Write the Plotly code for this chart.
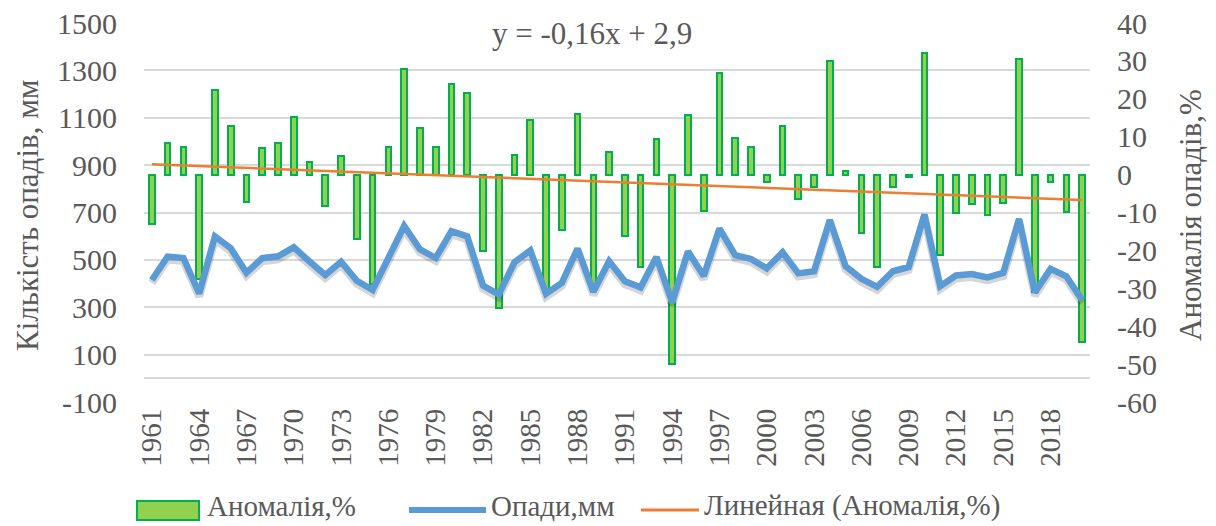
import plotly.graph_objects as go

# Annual precipitation and its anomaly, 1961-2020
years = list(range(1961, 2021))

anomaly_pct = [
    -13.0, 8.4, 7.4, -27.5, 22.4, 12.8, -7.2, 6.9, 8.4, 15.3,
    3.4, -8.3, 5.0, -17.1, -28.8, 7.4, 27.8, 12.4, 7.4, 23.9,
    21.5, -20.2, -35.1, 5.3, 14.4, -31.0, -14.7, 15.9, -30.5, 6.0,
    -16.2, -24.5, 9.3, -50.0, 15.7, -9.6, 26.8, 9.7, 7.4, -2.0,
    12.8, -6.5, -3.4, 30.1, 1.0, -15.4, -24.4, -3.2, -0.5, 32.2,
    -21.3, -10.0, -7.8, -10.7, -7.6, 30.5, -31.0, -2.0, -9.8, -44.2,
]

precip_mm = [
    415, 514, 508, 358, 599, 549, 446, 507, 515, 553,
    493, 436, 492, 412, 373, 512, 643, 545, 508, 621,
    599, 392, 354, 490, 540, 357, 403, 548, 365, 494,
    410, 384, 512, 320, 536, 432, 632, 520, 504, 464,
    532, 443, 452, 668, 473, 420, 386, 452, 470, 692,
    389, 434, 440, 426, 445, 673, 362, 462, 431, 330,
]

# Linear trend of the anomaly series: y = slope * n + intercept, n = 1..60
trend_slope = -0.16
trend_intercept = 2.9
trend_pct = [trend_slope * (i + 1) + trend_intercept for i in range(len(years))]

year_ticks = years[::3]
year_ticktext = [str(y) for y in year_ticks]

mm_range = [-100, 1500]
mm_ticks = [-100, 100, 300, 500, 700, 900, 1100, 1300, 1500]
mm_ticktext = ["-100", "100", "300", "500", "700", "900", "1100", "1300", "1500"]

pct_range = [-60, 40]
pct_ticks = [-60, -50, -40, -30, -20, -10, 0, 10, 20, 30, 40]
pct_ticktext = ["-60", "-50", "-40", "-30", "-20", "-10", "0", "10", "20", "30", "40"]

FONT = "Liberation Serif"
TXT = "#595959"
GRID = "#d9d9d9"
BAR_FILL = "#92d050"
BAR_EDGE = "#00b050"
BLUE = "#5b9bd5"
ORANGE = "#ed7d31"
SHADOW = "rgba(0,0,0,0.16)"

W, H = 1216, 526
ML, MR, MT, MB = 144, 126, 23, 124
PW, PH = W - ML - MR, H - MT - MB

# drop shadow of the precipitation line: same data on a hidden axis nudged a few px down
shadow_px = 3
shadow_shift = shadow_px * (mm_range[1] - mm_range[0]) / PH
shadow_range = [mm_range[0] + shadow_shift, mm_range[1] + shadow_shift]


def px_x(x):
    return (x - ML) / PW


def px_y(y):
    return (H - MB - y) / PH


fig = go.Figure()

fig.add_trace(go.Bar(
    x=years, y=anomaly_pct, yaxis="y", width=0.36,
    marker=dict(color=BAR_FILL, line=dict(color=BAR_EDGE, width=2)),
    name="Аномалія,%", showlegend=False,
))
fig.add_trace(go.Scatter(
    x=years, y=trend_pct, yaxis="y", mode="lines",
    line=dict(color=ORANGE, width=2.5),
    name="Линейная (Аномалія,%)", showlegend=False,
))
fig.add_trace(go.Scatter(
    x=years, y=precip_mm, yaxis="y2", mode="lines",
    line=dict(color=SHADOW, width=8),
    hoverinfo="skip", showlegend=False,
))
fig.add_trace(go.Scatter(
    x=years, y=precip_mm, yaxis="y3", mode="lines",
    line=dict(color=BLUE, width=6.5),
    name="Опади,мм", showlegend=False,
))

fig.update_layout(
    width=W, height=H, autosize=False,
    margin=dict(l=ML, r=MR, t=MT, b=MB, autoexpand=False),
    paper_bgcolor="white", plot_bgcolor="white",
    font=dict(family=FONT, color=TXT, size=30),
    bargap=0, showlegend=False,
    xaxis=dict(
        range=[1960.5, 2020.5], tickmode="array",
        tickvals=year_ticks, ticktext=year_ticktext, tickangle=-90,
        tickfont=dict(size=29, color=TXT, family=FONT),
        showgrid=False, zeroline=False, showline=False, ticks="",
        automargin=False,
    ),
    yaxis=dict(
        side="right", range=pct_range, tickmode="array",
        tickvals=pct_ticks, ticktext=pct_ticktext,
        tickfont=dict(size=30, color=TXT, family=FONT),
        showgrid=False, zeroline=False, showline=False, ticks="",
        ticklabelstandoff=26, automargin=False,
    ),
    yaxis2=dict(
        overlaying="y", range=shadow_range, visible=False,
        showgrid=False, zeroline=False, automargin=False,
    ),
    yaxis3=dict(
        side="left", overlaying="y", range=mm_range, tickmode="array",
        tickvals=mm_ticks, ticktext=mm_ticktext,
        tickfont=dict(size=30, color=TXT, family=FONT),
        showgrid=True, gridcolor=GRID, gridwidth=2,
        zeroline=True, zerolinecolor=GRID, zerolinewidth=2,
        showline=False, ticks="", ticklabelstandoff=26, automargin=False,
    ),
)


def label(text, x, y, angle=0, xanchor="center", size=31):
    return dict(text=text, x=px_x(x), y=px_y(y), xref="paper", yref="paper",
                xanchor=xanchor, yanchor="middle", textangle=angle,
                showarrow=False, font=dict(size=size, color=TXT, family=FONT))


annotations = [
    label("y = -0,16x + 2,9", 592, 33),
    label("Кількість опадів, мм", 27, 216, angle=-90),
    label("Аномалія опадів,%", 1190, 215, angle=-90),
    label("Аномалія,%", 205, 506, xanchor="left", size=29),
    label("Опади,мм", 489, 506, xanchor="left", size=29),
    label("Линейная (Аномалія,%)", 702, 506, xanchor="left", size=29),
]

shapes = [
    dict(type="rect", xref="paper", yref="paper",
         x0=px_x(137), x1=px_x(199), y0=px_y(520), y1=px_y(501),
         fillcolor=BAR_FILL, line=dict(color=BAR_EDGE, width=2)),
    dict(type="line", xref="paper", yref="paper",
         x0=px_x(409), x1=px_x(486), y0=px_y(510), y1=px_y(510),
         line=dict(color=BLUE, width=6)),
    dict(type="line", xref="paper", yref="paper",
         x0=px_x(641), x1=px_x(699), y0=px_y(510), y1=px_y(510),
         line=dict(color=ORANGE, width=3)),
]

fig.update_layout(annotations=annotations, shapes=shapes)

fig.write_html("out.html")
